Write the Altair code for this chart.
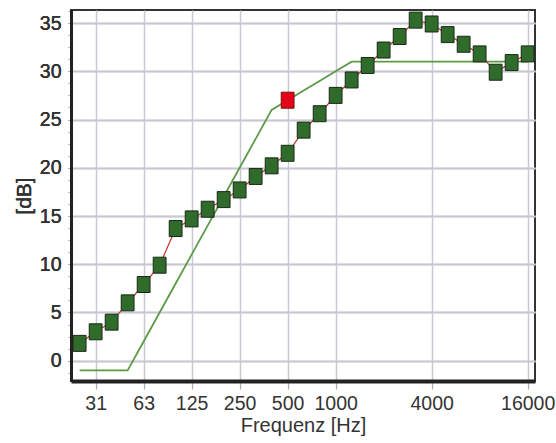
import altair as alt
import pandas as pd

# Third-octave bands (Hz)
bands = ["25", "31.5", "40", "50", "63", "80", "100", "125", "160", "200",
         "250", "315", "400", "500", "630", "800", "1000", "1250", "1600",
         "2000", "2500", "3150", "4000", "5000", "6300", "8000", "10000",
         "12500", "16000"]
# Measured values (dB)
measured = [1.8, 3.0, 4.0, 6.0, 7.9, 9.9, 13.7, 14.7, 15.7, 16.7, 17.7, 19.1,
            20.2, 21.5, 23.9, 25.6, 27.5, 29.1, 30.6, 32.2, 33.6, 35.3, 34.9,
            33.8, 32.8, 31.8, 29.9, 30.9, 31.8]
# Shifted reference curve (dB)
reference = [-1, -1, -1, -1, 2, 5, 8, 11, 14, 17, 20, 23, 26, 27, 28, 29, 30,
             31, 31, 31, 31, 31, 31, 31, 31, 31, 31, 31, 31]
# Single-number rating marker
rating_band = "500"
rating_value = 27
# Axis tick labels
tick_bands = ["31.5", "63", "125", "250", "500", "1000", "4000", "16000"]
tick_labels = ["31", "63", "125", "250", "500", "1000", "4000", "16000"]
y_ticks = [0, 5, 10, 15, 20, 25, 30, 35]
y_minor_ticks = [-1.25, 1.25, 2.5, 3.75, 6.25, 7.5, 8.75, 11.25, 12.5, 13.75,
                 16.25, 17.5, 18.75, 21.25, 22.5, 23.75, 26.25, 27.5, 28.75,
                 31.25, 32.5, 33.75, 36.25]

df = pd.DataFrame({"idx": list(range(len(bands))), "band": bands,
                   "measured": measured, "reference": reference})
df_rating = pd.DataFrame({"idx": [bands.index(rating_band)], "measured": [rating_value]})

tick_idx = [bands.index(b) for b in tick_bands]
label_expr = " : ".join(f"datum.value == {i} ? '{l}'" for i, l in zip(tick_idx, tick_labels)) + " : ''"

FONT = "Liberation Sans"
xscale = alt.Scale(domain=[-0.54, 28.46], nice=False, zero=False)
yscale = alt.Scale(domain=[-2.1, 36.35], nice=False, zero=False)

x_axis = alt.Axis(values=tick_idx, labelExpr=label_expr, title="Frequenz [Hz]",
                  grid=True, gridColor="#c8c8d2", gridWidth=1.5,
                  domainColor="#222222", domainWidth=4,
                  tickColor="#b0b0b0", tickSize=8, tickWidth=1.2,
                  labelPadding=5, labelFontSize=19.5, labelFont=FONT,
                  labelColor="#333333", titleFont=FONT, titleFontSize=20,
                  titleFontWeight="normal", titleColor="#333333", titlePadding=3)
y_axis = alt.Axis(orient="left", values=y_ticks, title="[dB]", grid=True,
                  gridColor="#c8c8d2", gridWidth=1.5, domainColor="#222222",
                  domainWidth=3, tickColor="#aaaaaa", tickSize=3, labelPadding=7,
                  labelFontSize=19.5, labelFont=FONT, labelColor="#333333",
                  titleFont=FONT, titleFontSize=21, titleFontWeight="normal",
                  titleColor="#333333", titlePadding=5)
y_minor = alt.Axis(orient="left", values=y_minor_ticks, labels=False, grid=False,
                   domain=False, ticks=True, tickColor="#aaaaaa", tickSize=3,
                   title=None)

X = alt.X("idx:Q", scale=xscale, axis=x_axis)
Y = alt.Y("measured:Q", scale=yscale, axis=y_axis)

ref_line = alt.Chart(df).mark_line(color="#5c9a48", strokeWidth=1.8).encode(
    x=X, y=alt.Y("reference:Q", scale=yscale, axis=y_axis))
meas_line = alt.Chart(df).mark_line(color="#c0302c", strokeWidth=1.2).encode(
    x=X, y=alt.Y("measured:Q", scale=yscale, axis=y_minor))
rect_shape = "M-0.8,-1L0.8,-1L0.8,1L-0.8,1Z"
meas_pts = alt.Chart(df).mark_point(shape=rect_shape, filled=True, fill="#2f6b2b",
                                    stroke="#1a2818", strokeWidth=1, size=256,
                                    opacity=1).encode(x=X, y=Y)
rating_pt = alt.Chart(df_rating).mark_point(shape=rect_shape, filled=True,
                                            fill="#e3061b", stroke="#7a1010",
                                            strokeWidth=1, size=256, opacity=1).encode(x=X, y=Y)

chart = alt.layer(ref_line, meas_line, meas_pts, rating_pt).resolve_axis(
    y="independent"
).properties(
    width=464, height=371,
    padding={"left": 71, "top": 10, "right": 21, "bottom": 62},
    autosize=alt.AutoSizeParams(type="none"),
    background="white",
).configure_view(stroke="#333333", strokeWidth=2)

chart.save("out.html", embed_options={"renderer": "svg", "actions": False})
